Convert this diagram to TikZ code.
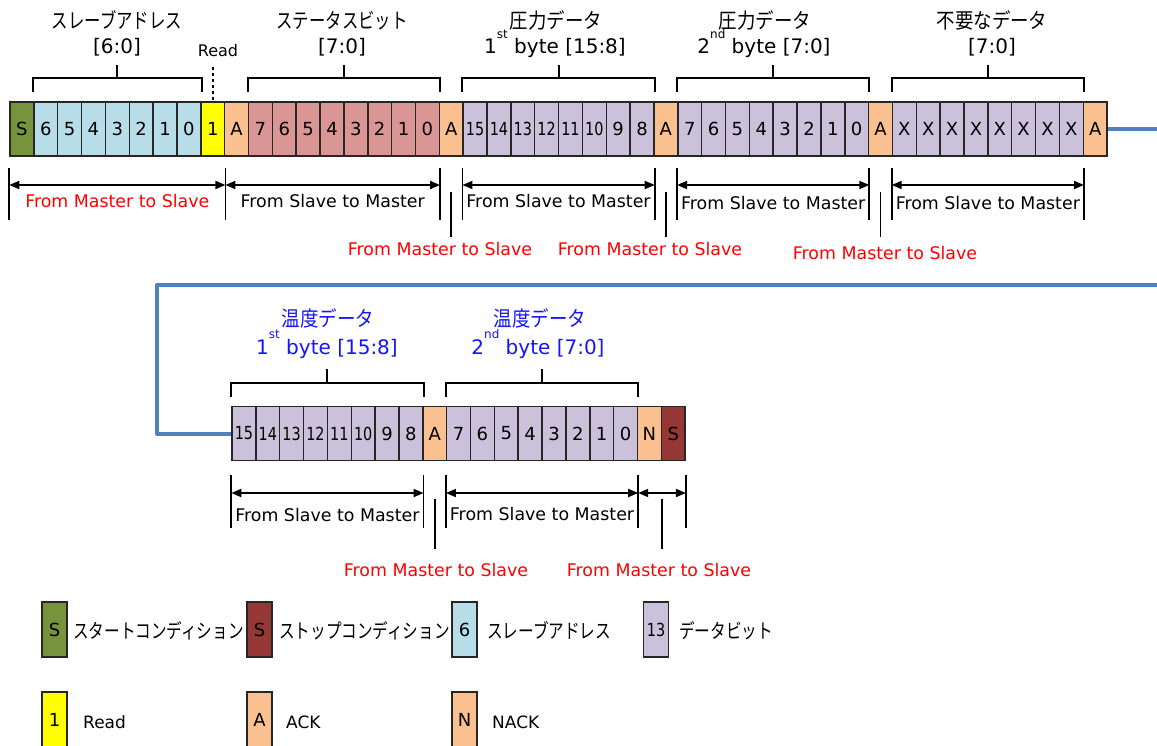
\documentclass[tikz,border=0pt]{standalone}
\usepackage{fontspec}
\usepackage{graphicx}
\setmainfont{DejaVu Sans}
\newfontfamily\jp[FakeStretch=0.78]{Noto Sans CJK JP}
\newfontfamily\jpw[FakeStretch=0.88]{Noto Sans CJK JP}
\newcommand\two[1]{\scalebox{0.8}[1]{#1}}
\usetikzlibrary{arrows.meta,calc}
\definecolor{cS}{HTML}{77933C}
\definecolor{cStop}{HTML}{953735}
\definecolor{cAddr}{HTML}{B7DEE8}
\definecolor{cRead}{HTML}{FFFF00}
\definecolor{cAck}{HTML}{FAC090}
\definecolor{cStat}{HTML}{D99694}
\definecolor{cData}{HTML}{CCC1DA}
\definecolor{cLine}{HTML}{4F81BD}
\definecolor{cRed}{HTML}{FF0000}
\definecolor{cBlue}{HTML}{1414FF}
\definecolor{cEdge}{HTML}{262626}
\newcommand\fs[1]{\fontsize{#1}{#1}\selectfont}
\newcommand\supr[1]{\raisebox{15.5pt}{\fs{12}#1}}
% bracket over cells: #1 left node, #2 right node, #3 bar offset, #4 tick length
\newcommand\ovbrk[4]{%
  \draw[brk] ([yshift=9pt]#1.north west) -- ([yshift=#3]#1.north west)
     -- ([yshift=#3]#2.north east) -- ([yshift=9pt]#2.north east);
  \draw[brk] ($([yshift=#3]#1.north west)!0.5!([yshift=#3]#2.north east)$) -- ++(0,-#4);
}
\begin{document}
\begin{tikzpicture}[x=1pt,y=-1pt,
  cell/.style={draw=cEdge, line width=1.5pt, minimum width=23.85pt, minimum height=54pt, inner sep=0pt, font=\fs{18}},
  legbox/.style={draw=cEdge, line width=1.5pt, minimum width=25pt, minimum height=55pt, inner sep=0pt, font=\fs{18}},
  brk/.style={line width=2pt, draw=black, line join=miter},
  bar/.style={line width=1.8pt},
  dimarrow/.style={line width=1.8pt, {Triangle[length=10pt,width=8pt]}-{Triangle[length=10pt,width=8pt]}},
  dirtxt/.style={font=\fs{17.4}, anchor=base, inner sep=0pt},
  hdr/.style={font=\fs{20}, anchor=base, inner sep=0pt},
  jhdr/.style={anchor=base, inner sep=0pt},
  flow/.style={draw=cLine, line width=4pt},
  legtxt/.style={anchor=base west, inner sep=0pt}
]
\useasboundingbox (0,0) rectangle (1157,746);

% ---------- top row cells ----------
\node[cell,fill=cS] (t1) at ({10+0.5*23.85},129) {S};
\foreach \k [count=\i from 2] in {6,5,4,3,2,1,0}
  \node[cell,fill=cAddr] (t\i) at ({10+(\i-0.5)*23.85},129) {\k};
\node[cell,fill=cRead] (t9) at ({10+8.5*23.85},129) {1};
\node[cell,fill=cAck] (t10) at ({10+9.5*23.85},129) {A};
\foreach \k [count=\i from 11] in {7,6,5,4,3,2,1,0}
  \node[cell,fill=cStat] (t\i) at ({10+(\i-0.5)*23.85},129) {\k};
\node[cell,fill=cAck] (t19) at ({10+18.5*23.85},129) {A};
\foreach \k [count=\i from 20] in {15,14,13,12,11,10,9,8}
  \node[cell,fill=cData] (t\i) at ({10+(\i-0.5)*23.85},129) {\ifnum\k>9 \two{\k}\else\k\fi};
\node[cell,fill=cAck] (t28) at ({10+27.5*23.85},129) {A};
\foreach \k [count=\i from 29] in {7,6,5,4,3,2,1,0}
  \node[cell,fill=cData] (t\i) at ({10+(\i-0.5)*23.85},129) {\k};
\node[cell,fill=cAck] (t37) at ({10+36.5*23.85},129) {A};
\foreach \i in {38,...,45}
  \node[cell,fill=cData] (t\i) at ({10+(\i-0.5)*23.85},129) {X};
\node[cell,fill=cAck] (t46) at ({10+45.5*23.85},129) {A};

% ---------- second row cells ----------
\foreach \k [count=\i] in {15,14,13,12,11,10,9,8}
  \node[cell,fill=cData] (b\i) at ({232+(\i-0.5)*23.85},433.5) {\ifnum\k>9 \two{\k}\else\k\fi};
\node[cell,fill=cAck] (b9) at ({232+8.5*23.85},433.5) {A};
\foreach \k [count=\i from 10] in {7,6,5,4,3,2,1,0}
  \node[cell,fill=cData] (b\i) at ({232+(\i-0.5)*23.85},433.5) {\k};
\node[cell,fill=cAck] (b18) at ({232+17.5*23.85},433.5) {N};
\node[cell,fill=cStop] (b19) at ({232+18.5*23.85},433.5) {S};

% ---------- flow line ----------
\coordinate (e1) at (t46.east -| 1157,0);
\coordinate (e2) at (1157,285);
\coordinate (k2) at (157,285);
\draw[flow] (t46.east) -- (e1);
\draw[flow, line join=round] (e2) -- (k2) |- (b1.west);

% ---------- headers top ----------
\ovbrk{t2}{t8}{23pt}{13}
\ovbrk{t11}{t18}{23pt}{13}
\ovbrk{t20}{t27}{23pt}{13}
\ovbrk{t29}{t36}{23pt}{13}
\ovbrk{t38}{t45}{23pt}{13}
\draw[line width=2pt, dash pattern=on 3.5pt off 2.5pt] (t9.north |- 0,67) -- (t9.north);

\node[jhdr] (h1a) at (117,29) {\jp\fs{21}スレーブアドレス};
\node[hdr]  (h1b) at (117,54) {[6:0]};
\node[anchor=base, inner sep=0pt, font=\fs{16}] (hr) at (218,57) {Read};
\node[jhdr] (h2a) at (342,29) {\jp\fs{21}ステータスビット};
\node[hdr]  (h2b) at (342,54) {[7:0]};
\node[jhdr] (h3a) at (556,29) {\jpw\fs{21}圧力データ};
\node[hdr]  (h3b) at (555,54) {1\supr{st} byte [15:8]};
\node[jhdr] (h4a) at (765,29) {\jpw\fs{21}圧力データ};
\node[hdr]  (h4b) at (764,54) {2\supr{nd} byte [7:0]};
\node[jhdr] (h5a) at (992,29) {\jpw\fs{21}不要なデータ};
\node[hdr]  (h5b) at (992,54) {[7:0]};

% ---------- headers second row ----------
\ovbrk{b1}{b8}{22.5pt}{14}
\ovbrk{b10}{b17}{22.5pt}{14}
\node[jhdr, text=cBlue] (h6a) at (328,326) {\jpw\fs{21}温度データ};
\node[hdr, text=cBlue]  (h6b) at (327,354) {1\supr{st} byte [15:8]};
\node[jhdr, text=cBlue] (h7a) at (540,326) {\jpw\fs{21}温度データ};
\node[hdr, text=cBlue]  (h7b) at (538,354) {2\supr{nd} byte [7:0]};

% ---------- direction dimensions top ----------
\coordinate (p0) at (t1.west |- 0,185);
\coordinate (p1) at (t9.east |- 0,185);
\coordinate (p2) at (t18.east |- 0,185);
\coordinate (p3) at (t20.west |- 0,185);
\coordinate (p4) at (t27.east |- 0,185);
\coordinate (p5) at (t29.west |- 0,185);
\coordinate (p6) at (t36.east |- 0,185);
\coordinate (p7) at (t38.west |- 0,185);
\coordinate (p8) at (t45.east |- 0,185);
\foreach \p in {p0,p1,p2,p3,p4,p5,p6,p7,p8}
  \draw[bar] ([yshift=17pt]\p) -- ([yshift=-35pt]\p);
\draw[dimarrow] (p0) -- (p1);
\draw[dimarrow] (p1) -- (p2);
\draw[dimarrow] (p3) -- (p4);
\draw[dimarrow] (p5) -- (p6);
\draw[dimarrow] (p7) -- (p8);
\foreach \c in {t19,t28,t37}
  \draw[bar] (\c.center |- 0,192) -- (\c.center |- 0,237);

\node[dirtxt, text=cRed] (m1) at ($(p0)!0.5!(p1)+(0,23)$) {From Master to Slave};
\node[dirtxt] (s1) at ($(p1)!0.5!(p2)+(0,23)$) {From Slave to Master};
\node[dirtxt] (s2) at ($(p3)!0.5!(p4)+(0,23)$) {From Slave to Master};
\node[dirtxt] (s3) at ($(p5)!0.5!(p6)+(0,25)$) {From Slave to Master};
\node[dirtxt] (s4) at ($(p7)!0.5!(p8)+(0,25)$) {From Slave to Master};
\node[dirtxt, text=cRed] (m2) at (440,255) {From Master to Slave};
\node[dirtxt, text=cRed] (m3) at (650,256) {From Master to Slave};
\node[dirtxt, text=cRed] (m4) at (885,259) {From Master to Slave};

% ---------- direction dimensions second row ----------
\coordinate (q0) at (b1.west |- 0,493);
\coordinate (q1) at (b8.east |- 0,493);
\coordinate (q2) at (b10.west |- 0,493);
\coordinate (q3) at (b17.east |- 0,493);
\coordinate (q4) at (b19.east |- 0,493);
\foreach \p in {q0,q1,q2,q3,q4}
  \draw[bar] ([yshift=18pt]\p) -- ([yshift=-35pt]\p);
\draw[dimarrow] (q0) -- (q1);
\draw[dimarrow] (q2) -- (q3);
\draw[dimarrow] (q3) -- (q4);
\draw[bar] (b9.center |- 0,499) -- (b9.center |- 0,549);
\draw[bar] (b18.east |- 0,499) -- (b18.east |- 0,549);
\node[dirtxt] (s5) at ($(q0)!0.5!(q1)+(0,28)$) {From Slave to Master};
\node[dirtxt] (s6) at ($(q2)!0.5!(q3)+(0,27)$) {From Slave to Master};
\node[dirtxt, text=cRed] (m5) at (436,576) {From Master to Slave};
\node[dirtxt, text=cRed] (m6) at (659,576) {From Master to Slave};

% ---------- legend ----------
\node[legbox,fill=cS] (l1) at (54.5,629.5) {S};
\node[legtxt] (l1t) at (73,638) {\jp\fs{20}スタートコンディション};
\node[legbox,fill=cStop] (l2) at (259.5,629.5) {S};
\node[legtxt] (l2t) at (279,638) {\jp\fs{20}ストップコンディション};
\node[legbox,fill=cAddr] (l3) at (464.5,629.5) {6};
\node[legtxt] (l3t) at (487,638) {\jp\fs{20}スレーブアドレス};
\node[legbox,fill=cData] (l4) at (656,629.5) {\two{13}};
\node[legtxt] (l4t) at (679,638) {\jp\fs{20}データビット};
\node[legbox,fill=cRead] (l5) at (54.5,719.5) {1};
\node[legtxt, font=\fs{17}] (l5t) at (83,728) {Read};
\node[legbox,fill=cAck] (l6) at (259.5,719.5) {A};
\node[legtxt, font=\fs{17}] (l6t) at (286,728) {ACK};
\node[legbox,fill=cAck] (l7) at (464.5,719.5) {N};
\node[legtxt, font=\fs{17}] (l7t) at (492,728) {NACK};
\end{tikzpicture}
\end{document}
